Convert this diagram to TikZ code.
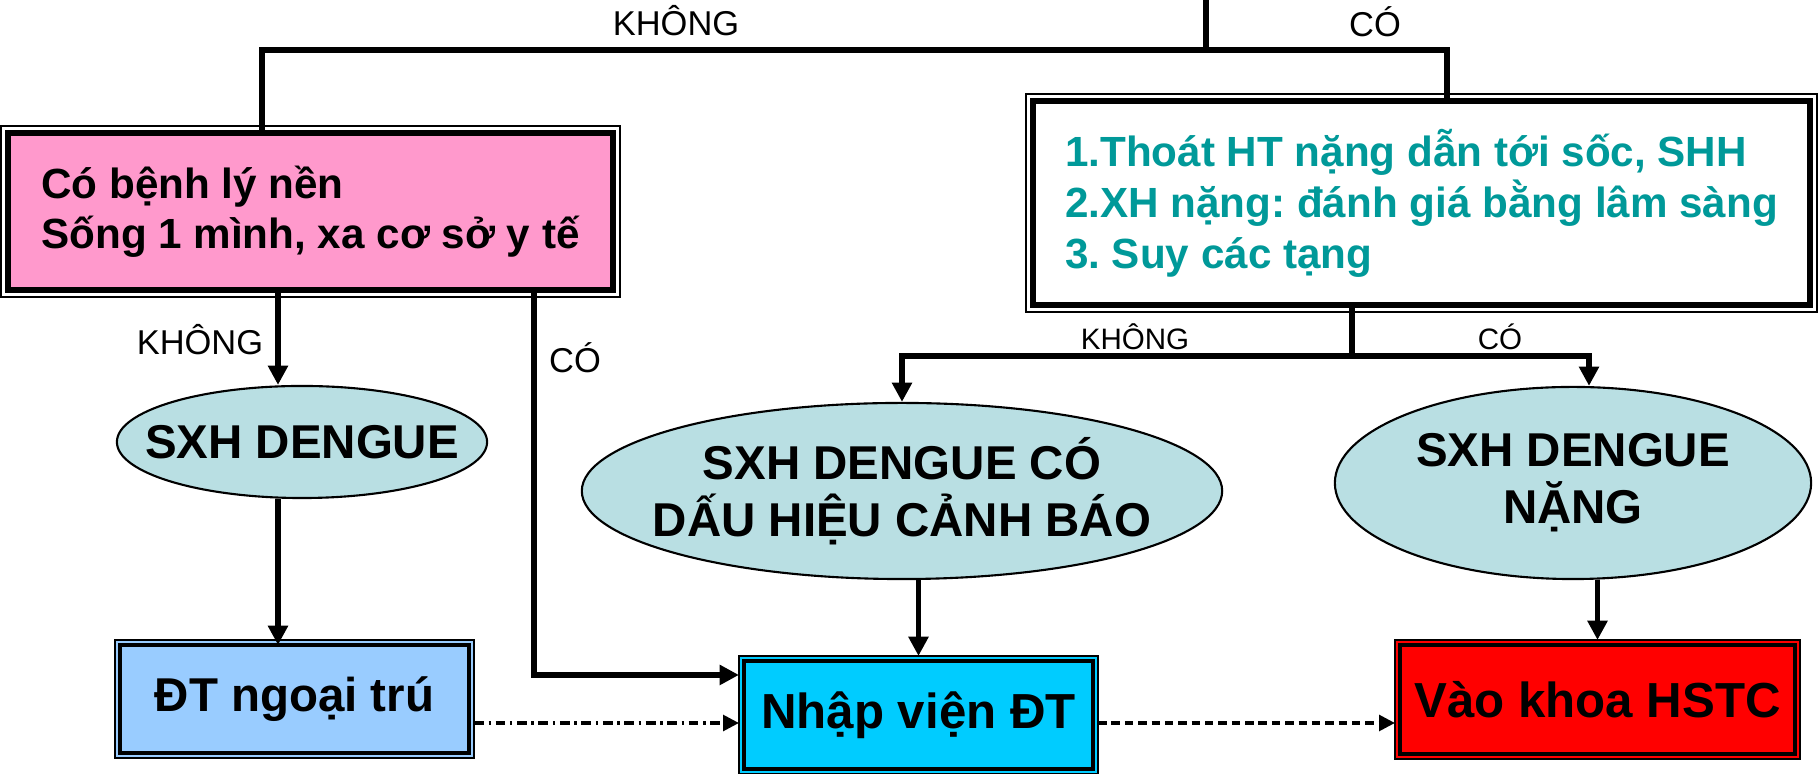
\documentclass[tikz,border=0pt]{standalone}
\usepackage{fontspec}
\setmainfont{Liberation Sans}
\usepackage{xcolor}
\usetikzlibrary{arrows.meta,shapes,backgrounds}
\definecolor{pinkbg}{HTML}{FF99CC}
\definecolor{critteal}{HTML}{009999}
\definecolor{ellbg}{HTML}{B9DFE3}
\definecolor{ngoaibg}{HTML}{99CCFF}
\definecolor{nhapbg}{HTML}{00CCFF}
\definecolor{hstcbg}{HTML}{FF0000}
\frenchspacing
\begin{document}
\begin{tikzpicture}[x=0.01cm,y=-0.01cm,
 wire/.style={line width=1.5pt},
 arr/.style={wire,-{Triangle[width=5.5pt,length=5.5pt]}},
 box/.style={draw,rectangle,line width=1pt,outer sep=0pt,inner sep=0pt,font=\bfseries\fontsize{14}{16}\selectfont},
 bigbox/.style={box,line width=1.8pt,align=left,font=\bfseries\fontsize{12}{14.2}\selectfont},
 ell/.style={draw,ellipse,fill=ellbg,line width=0.6pt,inner xsep=-0.3cm,inner ysep=0pt,align=center,font=\bfseries\fontsize{13.5}{16.3}\selectfont},
 lbl/.style={font=\fontsize{9.8}{12}\selectfont},
 boxframe/.style={draw,line width=0.6pt},
 dashdot/.style={line width=0.9pt,dash pattern=on 2.8pt off 1.3pt on 0.7pt off 1.3pt,-{Triangle[width=4.5pt,length=4.5pt]}},
 dashline/.style={line width=0.9pt,dash pattern=on 2.4pt off 1.4pt,-{Triangle[width=4.5pt,length=4.5pt]}}]
\useasboundingbox (0,0) rectangle (1818,774);

% boxes
\node[bigbox,fill=pinkbg,minimum width=6.05cm,minimum height=1.57cm] (risk) at (310.5,211.5)
 {Có bệnh lý nền\\Sống 1 mình, xa cơ sở y tế};
\node[bigbox,fill=white,text=critteal,minimum width=7.77cm,minimum height=2.04cm,font=\bfseries\fontsize{12}{14.5}\selectfont] (crit) at (1421.5,203)
 {1.Thoát HT nặng dẫn tới sốc, SHH\\2.XH nặng: đánh giá bằng lâm sàng\\3. Suy các tạng};
\node[ell,minimum width=3.70cm,minimum height=1.12cm] (e1) at (302,442) {SXH DENGUE};
\node[ell,minimum width=6.40cm,minimum height=1.76cm] (e2) at (902,491) {SXH DENGUE CÓ\\DẤU HIỆU CẢNH BÁO};
\node[ell,minimum width=4.76cm,minimum height=1.92cm] (e3) at (1573,483) {SXH DENGUE\\NẶNG};
\node[box,fill=ngoaibg,minimum width=3.49cm,minimum height=1.08cm,font=\bfseries\fontsize{13.5}{16}\selectfont] (ngoai) at (294.5,699) {ĐT ngoại trú};
\node[box,fill=nhapbg,minimum width=3.49cm,minimum height=1.08cm] (nhap) at (918.5,715) {Nhập viện ĐT};
\node[box,fill=hstcbg,minimum width=3.95cm,minimum height=1.09cm] (hstc) at (1597.5,699.5) {Vào khoa HSTC};

% outer thin frames
\begin{scope}[on background layer]
\foreach \n/\c/\d in {risk/white/0.07cm,crit/white/0.07cm,ngoai/ngoaibg/0.05cm,nhap/nhapbg/0.05cm,hstc/hstcbg/0.05cm}
 \draw[boxframe,fill=\c] ([xshift=-\d,yshift=-\d]\n.south west) rectangle ([xshift=\d,yshift=\d]\n.north east);
\end{scope}

% labels
\node[lbl] (t1) at (676,21) {KHÔNG};
\node[lbl] (t2) at (1375,22) {CÓ};
\node[lbl] (t3) at (200,340) {KHÔNG};
\node[lbl] (t4) at (575,358) {CÓ};
\node[lbl,font=\fontsize{8.4}{10}\selectfont] (t5) at (1135,337) {KHÔNG};
\node[lbl,font=\fontsize{8.4}{10}\selectfont] (t6) at (1500,337) {CÓ};

% connectors
\coordinate (root) at (1206,0);
\coordinate (fork) at (1206,50);
\coordinate (mid) at (1352,356);
\coordinate (kx) at (278,0);
\draw[wire] (root) -- (fork);
\draw[wire] (fork) -| ([xshift=-0.485cm]risk.north);
\draw[wire] (fork) -| ([xshift=0.255cm]crit.north);
\draw[arr] (risk.south -| kx) -- (e1.north -| kx);
\draw[arr] (e1.south -| kx) -- (ngoai.north -| kx);
\draw[arr] ([xshift=2.235cm]risk.south) |- ([xshift=-0.05cm,yshift=0.4cm]nhap.west);
\draw[wire] (crit.south -| mid) -- (mid);
\draw[arr] (mid) -| (e2.north);
\draw[arr] (mid) -| ([xshift=0.16cm]e3.north);
\draw[arr] (e2.south -| nhap.north) -- ([yshift=0.05cm]nhap.north);
\draw[arr] (e3.south -| hstc.north) -- ([yshift=0.05cm]hstc.north);
\draw[dashdot] ([xshift=0.05cm,yshift=-0.24cm]ngoai.east) -- ([xshift=-0.05cm,yshift=-0.24cm]ngoai.east -| nhap.west);
\draw[dashline] ([xshift=0.05cm,yshift=-0.08cm]nhap.east) -- ([xshift=-0.05cm,yshift=-0.08cm]nhap.east -| hstc.west);
\end{tikzpicture}
\end{document}
